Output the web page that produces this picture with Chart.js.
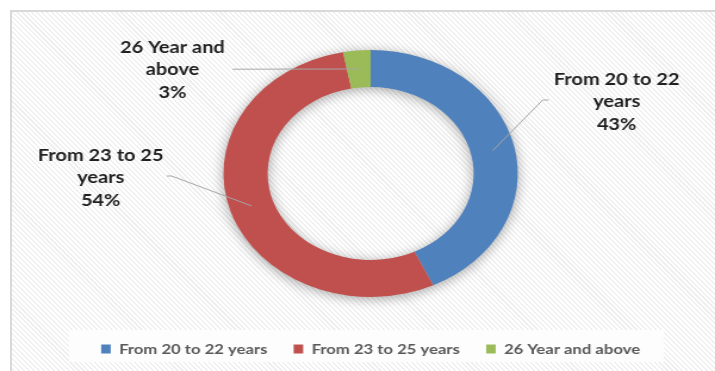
<!DOCTYPE html>
<html>
<head>
<meta charset="utf-8">
<script src="https://cdn.jsdelivr.net/npm/chart.js@4"></script>
<style>
  html, body { margin: 0; padding: 0; background: #fff; }
  body { width: 715px; height: 371px; position: relative; overflow: hidden; }
  #frame {
    position: absolute; left: 10px; top: 10px; width: 720px; height: 380px;
    border: 2px solid #d9d9d9;
    background: repeating-linear-gradient(45deg, #ffffff 0px, #ffffff 2px, #f0f0f0 2px, #f0f0f0 3.5px);
  }
  /* the original picture is stretched sideways, so the chart is too */
  #wrap {
    position: absolute; left: 0; top: 0; width: 600px; height: 371px;
    transform: scaleX(1.1917); transform-origin: 0 0;
  }
</style>
</head>
<body>
<div id="frame"></div>
<div id="wrap"><canvas id="ageChart"></canvas></div>
<script>
// Aldersgrupper
const ageGroups = ["From 20 to 22 years", "From 23 to 25 years", "26 Year and above"];
const sharePct = [43, 54, 3];
const sliceColors = ["#4f81bd", "#c0504d", "#9bbb59"];

// where the text labels sit, relative to the ring centre (label centre + leader elbow)
const labelPlaces = [
    { lx: 206.5, ly: -71.5, ex: 144.4, ey: -73.5, tx: 149.4 },
    { lx: -226.5, ly: 4.5, ex: -167, ey: 2.5, tx: -171 },
    { lx: -166.3, ly: -103.5, ex: -115.8, ey: -104.3, tx: -115.8 }
];

// skygge under ringen
const ringShadow = {
    id: 'ringShadow',
    beforeDatasetsDraw(chart) {
        const arc = chart.getDatasetMeta(0).data[0];
        if (!arc) return;
        const { x, y, innerRadius, outerRadius } = arc.getProps(['x', 'y', 'innerRadius', 'outerRadius'], true);
        const ctx = chart.ctx;
        ctx.save();
        ctx.shadowColor = 'rgba(0,0,0,0.35)';
        ctx.shadowBlur = 12;
        ctx.shadowOffsetY = 2;
        ctx.fillStyle = '#cccccc';
        ctx.beginPath();
        ctx.arc(x, y, outerRadius, 0, Math.PI * 2);
        ctx.arc(x, y, innerRadius, 0, Math.PI * 2, true);
        ctx.fill('evenodd');
        ctx.restore();
    }
};

// hvid boks bag legenden
const legendBox = {
    id: 'legendBox',
    beforeDraw(chart) {
        const lg = chart.legend;
        if (!lg || !lg.legendHitBoxes.length) return;
        const boxes = lg.legendHitBoxes;
        const left = boxes[0].left - 27;
        const right = boxes[boxes.length - 1].left + boxes[boxes.length - 1].width + 20;
        const top = boxes[0].top - 12;
        const ctx = chart.ctx;
        ctx.save();
        ctx.fillStyle = '#fdfdfd';
        ctx.fillRect(left, top, right - left, 32);
        ctx.restore();
    }
};

// data labels med streger
const sliceLabels = {
    id: 'sliceLabels',
    afterDatasetsDraw(chart) {
        const ctx = chart.ctx;
        const meta = chart.getDatasetMeta(0);
        const total = sharePct.reduce((s, v) => s + v, 0);
        meta.data.forEach((arc, i) => {
            const p = arc.getProps(['x', 'y', 'startAngle', 'endAngle', 'innerRadius', 'outerRadius'], true);
            const mid = (p.startAngle + p.endAngle) / 2;
            const r = (p.innerRadius + p.outerRadius) / 2;
            const ax = p.x + Math.cos(mid) * r;
            const ay = p.y + Math.sin(mid) * r;
            const pl = labelPlaces[i];

            ctx.save();
            ctx.strokeStyle = '#a6a6a6';
            ctx.lineWidth = 1;
            ctx.beginPath();
            ctx.moveTo(ax, ay);
            ctx.lineTo(p.x + pl.ex, p.y + pl.ey);
            ctx.lineTo(p.x + pl.tx, p.y + pl.ey);
            ctx.stroke();

            const name = ageGroups[i];
            const cut = name.lastIndexOf(' ');
            const lines = [name.slice(0, cut), name.slice(cut + 1), Math.round(sharePct[i] / total * 100) + '%'];
            ctx.font = 'bold 16.8px Lato';
            ctx.fillStyle = '#1f1f1f';
            ctx.textAlign = 'center';
            ctx.textBaseline = 'middle';
            lines.forEach((t, k) => {
                ctx.fillText(t, p.x + pl.lx, p.y + pl.ly + (k - 1) * 22.5);
            });
            ctx.restore();
        });
    }
};

new Chart(document.getElementById('ageChart'), {
    type: 'doughnut',
    data: {
        labels: ageGroups,
        datasets: [{
            data: sharePct,
            backgroundColor: sliceColors,
            borderWidth: 0,
            radius: 123.5,
            cutout: '70%'
        }]
    },
    options: {
        responsive: true,
        maintainAspectRatio: false,
        animation: false,
        layout: { padding: { left: 22, right: 0, top: 27, bottom: 5 } },
        plugins: {
            tooltip: { enabled: false },
            legend: {
                position: 'bottom',
                labels: {
                    boxWidth: 8,
                    boxHeight: 9,
                    padding: 22,
                    color: '#595959',
                    font: { family: 'Lato', size: 14, weight: 'bold' }
                }
            }
        }
    },
    plugins: [legendBox, ringShadow, sliceLabels]
});
</script>
</body>
</html>
